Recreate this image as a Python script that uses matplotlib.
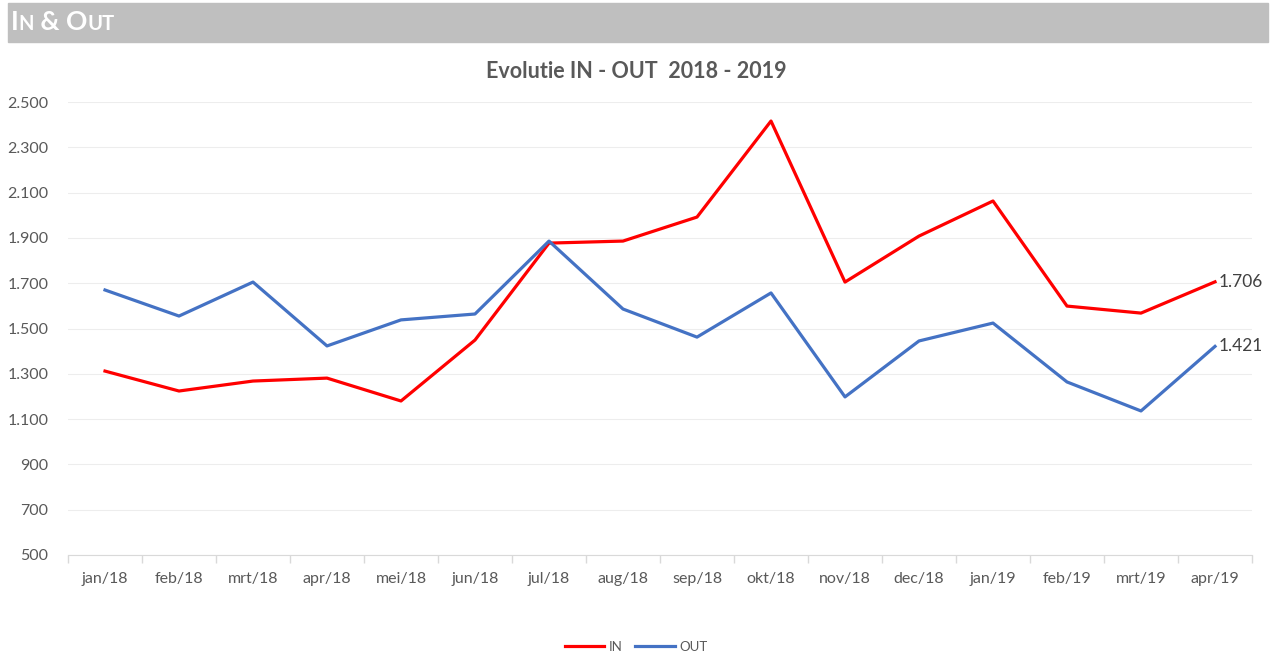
import matplotlib
matplotlib.use('Agg')
import matplotlib.pyplot as plt
from matplotlib.offsetbox import TextArea, HPacker, AnchoredOffsetbox
import numpy as np

# data
months = ['jan/18', 'feb/18', 'mrt/18', 'apr/18', 'mei/18', 'jun/18', 'jul/18', 'aug/18',
          'sep/18', 'okt/18', 'nov/18', 'dec/18', 'jan/19', 'feb/19', 'mrt/19', 'apr/19']
in_vals = [1312, 1224, 1268, 1281, 1180, 1449, 1877, 1886,
           1992, 2416, 1705, 1908, 2063, 1599, 1568, 1706]
out_vals = [1670, 1555, 1705, 1423, 1538, 1564, 1886, 1586,
            1462, 1657, 1198, 1445, 1524, 1264, 1136, 1421]
yticks = [500, 700, 900, 1100, 1300, 1500, 1700, 1900, 2100, 2300, 2500]

plt.rcParams['font.family'] = ['Lato', 'DejaVu Sans']
grey = '#595959'

fig = plt.figure(figsize=(12.72, 6.53), dpi=100)

# header bar
fig.patches.append(plt.Rectangle((8 / 1272, 1 - 42 / 653), 1260 / 1272, 39 / 653,
                                 transform=fig.transFigure, color='#BFBFBF', zorder=0))
parts = [('I', 19), ('N', 14.5), (' & ', 19), ('O', 19), ('UT', 14.5)]
boxes = [TextArea(t, textprops=dict(color='white', fontsize=s, fontweight='bold')) for t, s in parts]
pack = HPacker(children=boxes, align='baseline', pad=0, sep=0)
hdr = AnchoredOffsetbox(loc='center left', child=pack, frameon=False,
                        bbox_to_anchor=(11 / 1272, 1 - 22 / 653), bbox_transform=fig.transFigure,
                        borderpad=0, pad=0)
fig.add_artist(hdr)

ax = fig.add_axes([68 / 1272, 1 - 555 / 653, 1184 / 1272, 453 / 653])
x = np.arange(len(months))
ax.plot(x, in_vals, color='#FF0000', lw=2.3, label='IN', solid_joinstyle='round')
ax.plot(x, out_vals, color='#4472C4', lw=2.3, label='OUT', solid_joinstyle='round')

ax.text(x[-1] + 0.05, in_vals[-1], f'{in_vals[-1]:,}'.replace(',', '.'), color='#404040',
        fontsize=12.5, va='center', ha='left')
ax.text(x[-1] + 0.05, out_vals[-1], f'{out_vals[-1]:,}'.replace(',', '.'), color='#404040',
        fontsize=12.5, va='center', ha='left')

ax.set_xlim(-0.5, len(months) - 0.5)
ax.set_ylim(500, 2500)
ax.set_yticks(yticks)
ax.set_yticklabels([f'{v:,}'.replace(',', '.') for v in yticks])
ax.set_xticks(x)
ax.set_xticklabels(months)
ax.set_xticks(np.arange(-0.5, len(months)), minor=True)
ax.tick_params(axis='x', which='major', length=0, pad=12, labelsize=11.5, labelcolor=grey)
ax.tick_params(axis='x', which='minor', length=6, color='#D9D9D9', width=1)
ax.tick_params(axis='y', length=0, pad=14, labelsize=11.5, labelcolor=grey)
ax.grid(axis='y', color='#EDEDED', lw=0.8)
ax.set_axisbelow(True)
for s in ['top', 'right', 'left']:
    ax.spines[s].set_visible(False)
ax.spines['bottom'].set_color('#D9D9D9')

fig.text(0.5, 1 - 72 / 653, 'Evolutie IN - OUT  2018 - 2019', ha='center', va='center',
         fontsize=15.5, fontweight='bold', color=grey)

fig.legend(loc='center', bbox_to_anchor=(0.5, 1 - 647 / 653), ncol=2, frameon=False,
           fontsize=9.5, labelcolor=grey, handlelength=3, columnspacing=1, handletextpad=0.3)

fig.savefig('out.png', dpi=100)
